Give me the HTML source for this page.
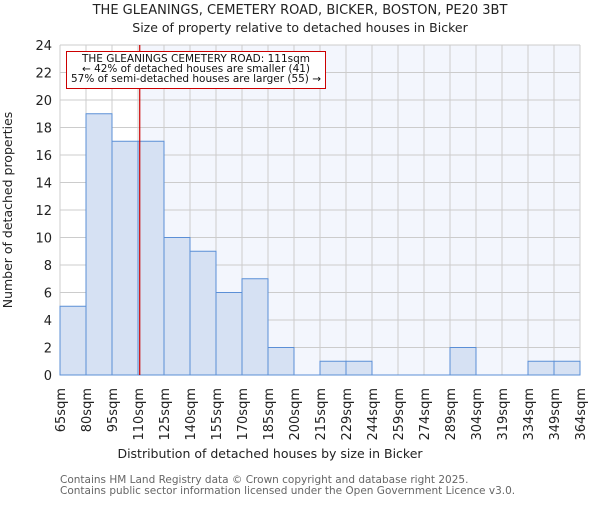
<!DOCTYPE html>
<html><head><meta charset="utf-8"><style>
body{margin:0;background:#fff;width:600px;height:500px;overflow:hidden}
text{font-family:"DejaVu Sans","Liberation Sans",sans-serif}
</style></head><body>
<svg id="chart" width="600" height="500">
<text x="300" y="14" text-anchor="middle" font-size="13" fill="#222">THE GLEANINGS, CEMETERY ROAD, BICKER, BOSTON, PE20 3BT</text>
<text x="300" y="32" text-anchor="middle" font-size="12.5" fill="#222">Size of property relative to detached houses in Bicker</text>
<g id="plot"></g>
<text x="270" y="458" text-anchor="middle" font-size="12.5" fill="#222">Distribution of detached houses by size in Bicker</text>
<text transform="translate(12,210) rotate(-90)" text-anchor="middle" font-size="12.5" fill="#222">Number of detached properties</text>
<text x="60" y="483" font-size="10.5" fill="#666">Contains HM Land Registry data © Crown copyright and database right 2025.</text>
<text x="60" y="494" font-size="10.5" fill="#666">Contains public sector information licensed under the Open Government Licence v3.0.</text>
</svg>
<script>
const categories=["65sqm","80sqm","95sqm","110sqm","125sqm","140sqm","155sqm","170sqm","185sqm","200sqm","215sqm","229sqm","244sqm","259sqm","274sqm","289sqm","304sqm","319sqm","334sqm","349sqm","364sqm"];
const counts=[5,19,17,17,10,9,6,7,2,0,1,1,0,0,0,2,0,0,1,1];
const yTicks=[0,2,4,6,8,10,12,14,16,18,20,22,24];
const markerValue=111;
const binStart=65, binWidth=15;
const L=60,R=580,T=45,B=375,yMax=24;
const n=counts.length, bw=(R-L)/n;
const x=i=>L+i*bw;
const xv=v=>L+(v-binStart)/binWidth*bw;
const y=v=>B-(v/yMax)*(B-T);
const ns="http://www.w3.org/2000/svg";
const g=document.getElementById('plot');
function mk(t,a){const e=document.createElementNS(ns,t);for(const k in a)e.setAttribute(k,a[k]);g.appendChild(e);return e;}
const mx=xv(markerValue);
let e=mk('rect',{x:L,y:T,width:R-L,height:B-T,fill:'#fff'});


e=mk('rect',{x:mx,y:T,width:R-mx,height:B-T,fill:'#f3f6fd'});


yTicks.forEach(t=>{
 e=mk('line',{x1:L,x2:R,y1:y(t),y2:y(t),stroke:'#cccccc','stroke-width':1});
 
 
 e=mk('text',{x:L-8,y:y(t)+5,'text-anchor':'end','font-size':13,fill:'#222'});e.textContent=t;
 
 
});
categories.forEach((c,i)=>{
 e=mk('line',{x1:x(i),x2:x(i),y1:T,y2:B,stroke:'#cccccc','stroke-width':1});
 
 
});
counts.forEach((v,i)=>{
 if(v<=0)return;
 e=mk('rect',{x:x(i),y:y(v),width:bw,height:B-y(v),fill:'#d6e1f3',stroke:'#5b8fd6','stroke-width':1});
 
 
});
e=mk('line',{x1:L,x2:R,y1:B,y2:B,stroke:'#5b8fd6','stroke-width':1});


categories.forEach((c,i)=>{
 e=mk('text',{transform:`translate(${x(i)+5},388) rotate(-90)`,'text-anchor':'end','font-size':13,fill:'#222'});e.textContent=c;
 
 
});
e=mk('line',{x1:mx,x2:mx,y1:T,y2:B,stroke:'#cc0000','stroke-width':1.2});


e=mk('rect',{x:66.5,y:51.5,width:259,height:37,fill:'#fff',stroke:'#cc0000','stroke-width':1});


["THE GLEANINGS CEMETERY ROAD: 111sqm","← 42% of detached houses are smaller (41)","57% of semi-detached houses are larger (55) →"].forEach((s,i)=>{
 e=mk('text',{x:196,y:62+i*10,'text-anchor':'middle','font-size':10.2,'textLength':i==2?250:(i==1?228:228),'lengthAdjust':'spacingAndGlyphs',fill:'#111'});e.textContent=s;
 
 
});
</script>
</body></html>
